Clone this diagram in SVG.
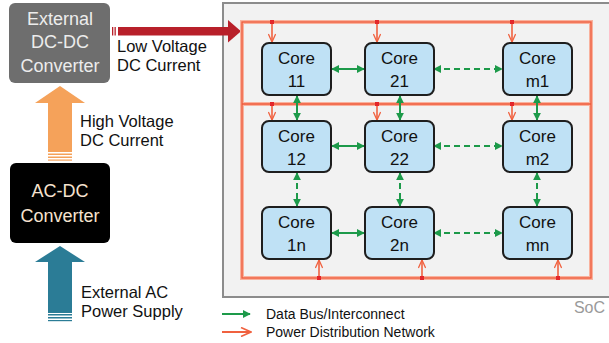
<svg xmlns="http://www.w3.org/2000/svg" width="609" height="343" viewBox="0 0 609 343">
<defs>
<style>
.t{font-family:"Liberation Sans",Arial,sans-serif;}
.core rect{fill:#bfe1f5;stroke:#1e1e1e;stroke-width:2;}
.core text{font-family:"Liberation Sans",Arial,sans-serif;font-size:17px;fill:#111;text-anchor:middle;}
.pwr{fill:none;stroke:#f9b29e;stroke-width:4;}
.pwrc{fill:none;stroke:#ef5a3a;stroke-width:1.3;}
.drop{fill:none;stroke:#f0613f;stroke-width:1.6;marker-end:url(#pa);}
.bus{fill:none;stroke:#1d9a4a;stroke-width:2;marker-start:url(#ga);marker-end:url(#ga);}
.dash{stroke-dasharray:6 4;}
.dot{fill:#e3262b;}
.lbl{font-family:"Liberation Sans",Arial,sans-serif;font-size:16.5px;fill:#111;}
</style>
<marker id="ga" viewBox="0 0 10 10" refX="9" refY="5" markerWidth="4" markerHeight="4" orient="auto-start-reverse" markerUnits="strokeWidth">
<path d="M0,0 L10,5 L0,10 z" fill="#1d9a4a"/>
</marker>
<marker id="pa" viewBox="0 0 12 10" refX="11" refY="5" markerWidth="6" markerHeight="5" orient="auto-start-reverse" markerUnits="strokeWidth">
<path d="M1,0.5 L11,5 L1,9.5" fill="none" stroke="#f0613f" stroke-width="1.6"/>
</marker>
</defs>
<rect width="609" height="343" fill="#ffffff"/>

<!-- SoC -->
<g id="soc">
<rect x="223" y="3" width="392" height="294" fill="#f2f2f2" stroke="#8c8c8c" stroke-width="2"/>
<text class="t" x="605" y="313" font-size="16" fill="#9a9a9a" text-anchor="end">SoC</text>
</g>

<!-- External DC-DC converter -->
<g id="dcdc">
<rect x="9" y="3" width="101" height="80" rx="6" fill="#6e6e6e"/>
<text class="t" x="60" y="25" font-size="18" fill="#ececec" text-anchor="middle">External</text>
<text class="t" x="60" y="48" font-size="18" fill="#ececec" text-anchor="middle">DC-DC</text>
<text class="t" x="60" y="72" font-size="18" fill="#ececec" text-anchor="middle">Converter</text>
</g>

<!-- AC-DC converter -->
<g id="acdc">
<rect x="10" y="163" width="100" height="80" rx="6" fill="#000000"/>
<text class="t" x="60" y="197" font-size="18" fill="#f6e3cf" text-anchor="middle">AC-DC</text>
<text class="t" x="60" y="222" font-size="18" fill="#f6e3cf" text-anchor="middle">Converter</text>
</g>

<!-- big arrows -->
<g id="bigarrows">
<g fill="#f5a25a">
<rect x="48" y="102" width="24" height="50"/>
<polygon points="35,103 60,86 85,103"/>
<rect x="48" y="153.5" width="24" height="1.5"/>
<rect x="48" y="156.5" width="24" height="1.5"/>
<rect x="48" y="159.5" width="24" height="1.2"/>
</g>
<g fill="#2b7c96">
<rect x="48" y="261" width="24" height="52"/>
<polygon points="35,262 60,246 85,262"/>
<rect x="48" y="314" width="24" height="1.5"/>
<rect x="48" y="317" width="24" height="1.5"/>
<rect x="48" y="320" width="24" height="1.2"/>
</g>
<g fill="#b8202a">
<rect x="118" y="27" width="112" height="8.5"/>
<polygon points="228,20 241,31.2 228,42.5"/>
<rect x="112" y="27" width="1.3" height="8.5"/>
<rect x="114.5" y="27" width="1.3" height="8.5"/>
</g>
<text class="lbl" x="117" y="52">Low Voltage</text>
<text class="lbl" x="117" y="71">DC Current</text>
<text class="lbl" x="80" y="127">High Voltage</text>
<text class="lbl" x="80" y="146">DC Current</text>
<text class="lbl" x="81" y="298">External AC</text>
<text class="lbl" x="81" y="317">Power Supply</text>
</g>

<!-- connectors -->
<g id="connectors">
<rect class="pwr" x="242" y="22" width="349" height="256"/>
<line class="pwr" x1="242" y1="104" x2="591" y2="104"/>
<rect class="pwrc" x="242" y="22" width="349" height="256"/>
<line class="pwrc" x1="242" y1="104" x2="591" y2="104"/>
<line class="drop" x1="272" y1="22" x2="272" y2="42"/>
<line class="drop" x1="377" y1="22" x2="377" y2="42"/>
<line class="drop" x1="512" y1="22" x2="512" y2="42"/>
<line class="drop" x1="272" y1="104" x2="272" y2="120"/>
<line class="drop" x1="377" y1="104" x2="377" y2="120"/>
<line class="drop" x1="512" y1="104" x2="512" y2="120"/>
<line class="drop" x1="319" y1="278" x2="319" y2="260"/>
<line class="drop" x1="422" y1="278" x2="422" y2="260"/>
<line class="drop" x1="558" y1="278" x2="558" y2="260"/>
<rect class="dot" x="270" y="20" width="4" height="4"/>
<rect class="dot" x="375" y="20" width="4" height="4"/>
<rect class="dot" x="510" y="20" width="4" height="4"/>
<rect class="dot" x="270" y="102" width="4" height="4"/>
<rect class="dot" x="375" y="102" width="4" height="4"/>
<rect class="dot" x="510" y="102" width="4" height="4"/>
<rect class="dot" x="317" y="276" width="4" height="4"/>
<rect class="dot" x="420" y="276" width="4" height="4"/>
<rect class="dot" x="556" y="276" width="4" height="4"/>

<line class="bus" x1="332" y1="69" x2="364" y2="69"/>
<line class="bus dash" x1="434" y1="69" x2="502" y2="69"/>
<line class="bus" x1="332" y1="146" x2="364" y2="146"/>
<line class="bus dash" x1="434" y1="146" x2="502" y2="146"/>
<line class="bus" x1="332" y1="233" x2="364" y2="233"/>
<line class="bus dash" x1="434" y1="233" x2="502" y2="233"/>
<line class="bus" x1="297" y1="96" x2="297" y2="120"/>
<line class="bus" x1="400" y1="96" x2="400" y2="120"/>
<line class="bus" x1="537" y1="96" x2="537" y2="120"/>
<line class="bus dash" x1="297" y1="173" x2="297" y2="206"/>
<line class="bus dash" x1="400" y1="173" x2="400" y2="206"/>
<line class="bus dash" x1="537" y1="173" x2="537" y2="206"/>
</g>

<!-- cores -->
<g id="core11" class="core"><rect x="262" y="43" width="69" height="52" rx="7"/><text x="296.5" y="64">Core</text><text x="296.5" y="87">11</text></g>
<g id="core21" class="core"><rect x="365" y="43" width="69" height="52" rx="7"/><text x="399.5" y="64">Core</text><text x="399.5" y="87">21</text></g>
<g id="corem1" class="core"><rect x="503" y="43" width="69" height="52" rx="7"/><text x="537.5" y="64">Core</text><text x="537.5" y="87">m1</text></g>
<g id="core12" class="core"><rect x="262" y="121" width="69" height="51" rx="7"/><text x="296.5" y="142">Core</text><text x="296.5" y="165">12</text></g>
<g id="core22" class="core"><rect x="365" y="121" width="69" height="51" rx="7"/><text x="399.5" y="142">Core</text><text x="399.5" y="165">22</text></g>
<g id="corem2" class="core"><rect x="503" y="121" width="69" height="51" rx="7"/><text x="537.5" y="142">Core</text><text x="537.5" y="165">m2</text></g>
<g id="core1n" class="core"><rect x="262" y="207" width="69" height="52" rx="7"/><text x="296.5" y="228">Core</text><text x="296.5" y="251">1n</text></g>
<g id="core2n" class="core"><rect x="365" y="207" width="69" height="52" rx="7"/><text x="399.5" y="228">Core</text><text x="399.5" y="251">2n</text></g>
<g id="coremn" class="core"><rect x="503" y="207" width="69" height="52" rx="7"/><text x="537.5" y="228">Core</text><text x="537.5" y="251">mn</text></g>

<!-- legend -->
<g id="legend">
<line x1="222" y1="314" x2="250" y2="314" stroke="#1d9a4a" stroke-width="2" marker-end="url(#ga)"/>
<line x1="222" y1="332" x2="251" y2="332" stroke="#f0613f" stroke-width="2" marker-end="url(#pa)"/>
<text class="t" x="266" y="319" font-size="14" fill="#111">Data Bus/Interconnect</text>
<text class="t" x="266" y="337" font-size="14" fill="#111">Power Distribution Network</text>
</g>
</svg>
